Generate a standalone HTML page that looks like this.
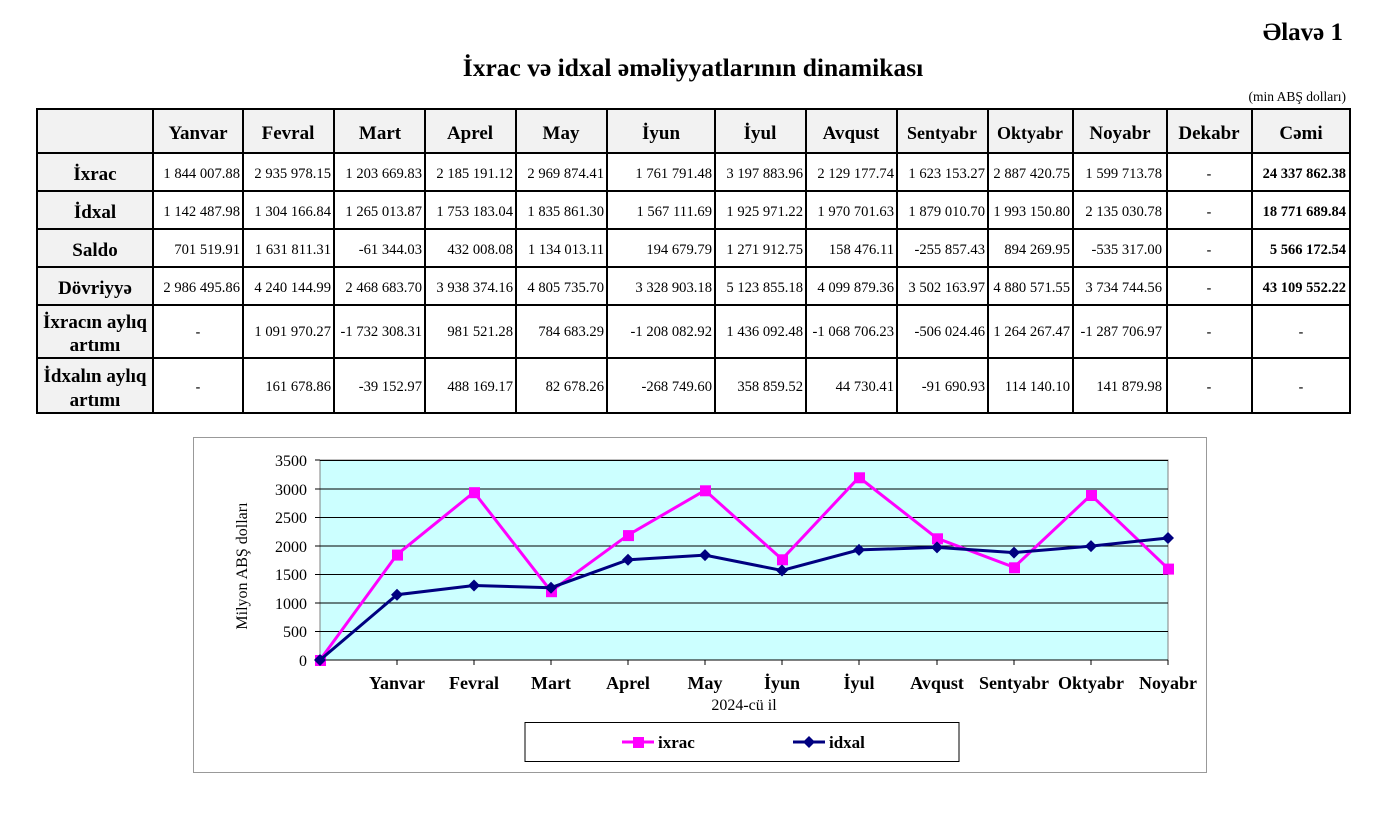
<!DOCTYPE html>
<html><head><meta charset="utf-8"><style>
body{margin:0;background:#fff;width:1375px;height:824px;overflow:hidden}
svg{display:block;font-family:"Liberation Serif",serif}
.h{font-weight:bold;font-size:19px;text-anchor:middle}
.d{font-size:14.6px;text-anchor:end}
.c{font-size:14px;text-anchor:middle}
.b{font-size:14.5px;text-anchor:end;font-weight:bold}
</style></head><body>
<svg width="1375" height="824" viewBox="0 0 1375 824">
<text x="1343" y="40" font-size="25" font-weight="bold" text-anchor="end">Əlavə 1</text>
<text x="693" y="76" font-size="25.5" font-weight="bold" text-anchor="middle">İxrac və idxal əməliyyatlarının dinamikası</text>
<text x="1346" y="101" font-size="13.5" text-anchor="end">(min ABŞ dolları)</text>
<rect x="37" y="109" width="1313" height="44" fill="#f2f2f2"/>
<rect x="37" y="109" width="116" height="304" fill="#f2f2f2"/>
<g stroke="#000" stroke-width="2" fill="none">
<rect x="37" y="109" width="1313" height="304"/>
<path d="M37 153H1350M37 191H1350M37 229H1350M37 267H1350M37 305H1350M37 358H1350"/>
<path d="M153 109V413M243 109V413M334 109V413M425 109V413M516 109V413M607 109V413M715 109V413M806 109V413M897 109V413M988 109V413M1073 109V413M1167 109V413M1252 109V413"/>
</g>
<g class="h">
<text x="198" y="139">Yanvar</text><text x="288" y="139">Fevral</text><text x="380" y="139">Mart</text><text x="470" y="139">Aprel</text><text x="561" y="139">May</text><text x="661" y="139">İyun</text><text x="760" y="139">İyul</text><text x="851" y="139">Avqust</text><text x="942" y="139" font-size="18">Sentyabr</text><text x="1030" y="139" font-size="18">Oktyabr</text><text x="1120" y="139">Noyabr</text><text x="1209" y="139">Dekabr</text><text x="1301" y="139">Cəmi</text>
<text x="95" y="180">İxrac</text><text x="95" y="218">İdxal</text><text x="95" y="256">Saldo</text><text x="95" y="294">Dövriyyə</text>
<text x="95" y="328">İxracın aylıq</text><text x="95" y="351">artımı</text>
<text x="95" y="382">İdxalın aylıq</text><text x="95" y="406">artımı</text>
</g>
<g class="d">
<text x="240" y="178">1 844 007.88</text><text x="331" y="178">2 935 978.15</text><text x="422" y="178">1 203 669.83</text><text x="513" y="178">2 185 191.12</text><text x="604" y="178">2 969 874.41</text><text x="712" y="178">1 761 791.48</text><text x="803" y="178">3 197 883.96</text><text x="894" y="178">2 129 177.74</text><text x="985" y="178">1 623 153.27</text><text x="1070" y="178">2 887 420.75</text><text x="1162" y="178">1 599 713.78</text>
<text x="240" y="216">1 142 487.98</text><text x="331" y="216">1 304 166.84</text><text x="422" y="216">1 265 013.87</text><text x="513" y="216">1 753 183.04</text><text x="604" y="216">1 835 861.30</text><text x="712" y="216">1 567 111.69</text><text x="803" y="216">1 925 971.22</text><text x="894" y="216">1 970 701.63</text><text x="985" y="216">1 879 010.70</text><text x="1070" y="216">1 993 150.80</text><text x="1162" y="216">2 135 030.78</text>
<text x="240" y="254">701 519.91</text><text x="331" y="254">1 631 811.31</text><text x="422" y="254">-61 344.03</text><text x="513" y="254">432 008.08</text><text x="604" y="254">1 134 013.11</text><text x="712" y="254">194 679.79</text><text x="803" y="254">1 271 912.75</text><text x="894" y="254">158 476.11</text><text x="985" y="254">-255 857.43</text><text x="1070" y="254">894 269.95</text><text x="1162" y="254">-535 317.00</text>
<text x="240" y="292">2 986 495.86</text><text x="331" y="292">4 240 144.99</text><text x="422" y="292">2 468 683.70</text><text x="513" y="292">3 938 374.16</text><text x="604" y="292">4 805 735.70</text><text x="712" y="292">3 328 903.18</text><text x="803" y="292">5 123 855.18</text><text x="894" y="292">4 099 879.36</text><text x="985" y="292">3 502 163.97</text><text x="1070" y="292">4 880 571.55</text><text x="1162" y="292">3 734 744.56</text>
<text x="331" y="336">1 091 970.27</text><text x="422" y="336">-1 732 308.31</text><text x="513" y="336">981 521.28</text><text x="604" y="336">784 683.29</text><text x="712" y="336">-1 208 082.92</text><text x="803" y="336">1 436 092.48</text><text x="894" y="336">-1 068 706.23</text><text x="985" y="336">-506 024.46</text><text x="1070" y="336">1 264 267.47</text><text x="1162" y="336">-1 287 706.97</text>
<text x="331" y="391">161 678.86</text><text x="422" y="391">-39 152.97</text><text x="513" y="391">488 169.17</text><text x="604" y="391">82 678.26</text><text x="712" y="391">-268 749.60</text><text x="803" y="391">358 859.52</text><text x="894" y="391">44 730.41</text><text x="985" y="391">-91 690.93</text><text x="1070" y="391">114 140.10</text><text x="1162" y="391">141 879.98</text>
</g>
<g class="b">
<text x="1346" y="178">24 337 862.38</text><text x="1346" y="216">18 771 689.84</text><text x="1346" y="254">5 566 172.54</text><text x="1346" y="292">43 109 552.22</text>
</g>
<g class="c" font-weight="bold">
<text x="1209" y="178">-</text><text x="1209" y="216">-</text><text x="1209" y="254">-</text><text x="1209" y="292">-</text>
<text x="198" y="336">-</text><text x="1209" y="336">-</text><text x="1301" y="336">-</text>
<text x="198" y="391">-</text><text x="1209" y="391">-</text><text x="1301" y="391">-</text>
</g>
<rect x="193.5" y="437.5" width="1013" height="335" fill="#fff" stroke="#999"/>
<rect x="320" y="460" width="848" height="200" fill="#ccffff" stroke="#808080"/>
<g stroke="#000" stroke-width="1">
<path d="M320 460.5H1168M320 489H1168M320 517.5H1168M320 546H1168M320 574.5H1168M320 603H1168M320 631.5H1168"/>
<path d="M315 660H1168M315 460H320M315 489H320M315 517.5H320M315 546H320M315 574.5H320M315 603H320M315 631.5H320"/>
<path d="M397 660v5M474 660v5M551 660v5M628 660v5M705 660v5M782 660v5M859 660v5M937 660v5M1014 660v5M1091 660v5M1168 660v5"/>
</g>
<g font-size="16" text-anchor="end">
<text x="307" y="466">3500</text><text x="307" y="495">3000</text><text x="307" y="523">2500</text><text x="307" y="552">2000</text><text x="307" y="580">1500</text><text x="307" y="609">1000</text><text x="307" y="637">500</text><text x="307" y="666">0</text>
</g>
<text transform="translate(247 566) rotate(-90)" font-size="16" text-anchor="middle">Milyon ABŞ dolları</text>
<g font-size="18" font-weight="bold" text-anchor="middle">
<text x="397" y="689">Yanvar</text><text x="474" y="689">Fevral</text><text x="551" y="689">Mart</text><text x="628" y="689">Aprel</text><text x="705" y="689">May</text><text x="782" y="689">İyun</text><text x="859" y="689">İyul</text><text x="937" y="689">Avqust</text><text x="1014" y="689">Sentyabr</text><text x="1091" y="689">Oktyabr</text><text x="1168" y="689">Noyabr</text>
</g>
<text x="744" y="710" font-size="16" text-anchor="middle">2024-cü il</text>
<polyline fill="none" stroke="#ff00ff" stroke-width="3" points="320,660 397,554.6 474,492.2 551,591.2 628,535.1 705,490.3 782,559.3 859,477.3 937,538.3 1014,567.3 1091,495 1168,568.6"/>
<g fill="#ff00ff">
<rect x="315" y="655" width="11" height="11"/><rect x="392" y="549.6" width="11" height="11"/><rect x="469" y="487.2" width="11" height="11"/><rect x="546" y="586.2" width="11" height="11"/><rect x="623" y="530.1" width="11" height="11"/><rect x="700" y="485.3" width="11" height="11"/><rect x="777" y="554.3" width="11" height="11"/><rect x="854" y="472.3" width="11" height="11"/><rect x="932" y="533.3" width="11" height="11"/><rect x="1009" y="562.3" width="11" height="11"/><rect x="1086" y="490" width="11" height="11"/><rect x="1163" y="563.6" width="11" height="11"/>
</g>
<polyline fill="none" stroke="#000080" stroke-width="3" points="320,660 397,594.7 474,585.5 551,587.7 628,559.8 705,555.1 782,570.5 859,549.9 937,547.4 1014,552.6 1091,546.1 1168,538"/>
<g fill="#000080">
<path d="M320 654l6 6-6 6-6-6z"/><path d="M397 588.7l6 6-6 6-6-6z"/><path d="M474 579.5l6 6-6 6-6-6z"/><path d="M551 581.7l6 6-6 6-6-6z"/><path d="M628 553.8l6 6-6 6-6-6z"/><path d="M705 549.1l6 6-6 6-6-6z"/><path d="M782 564.5l6 6-6 6-6-6z"/><path d="M859 543.9l6 6-6 6-6-6z"/><path d="M937 541.4l6 6-6 6-6-6z"/><path d="M1014 546.6l6 6-6 6-6-6z"/><path d="M1091 540.1l6 6-6 6-6-6z"/><path d="M1168 532l6 6-6 6-6-6z"/>
</g>
<rect x="525" y="722.5" width="434" height="39" fill="#fff" stroke="#000"/>
<path d="M622 742H654" stroke="#ff00ff" stroke-width="3"/><rect x="633" y="737" width="11" height="11" fill="#ff00ff"/>
<text x="658" y="748" font-size="17" font-weight="bold">ixrac</text>
<path d="M793 742H825" stroke="#000080" stroke-width="3"/><path d="M809 736l6 6-6 6-6-6z" fill="#000080"/>
<text x="829" y="748" font-size="17" font-weight="bold">idxal</text>
</svg>
</body></html>
